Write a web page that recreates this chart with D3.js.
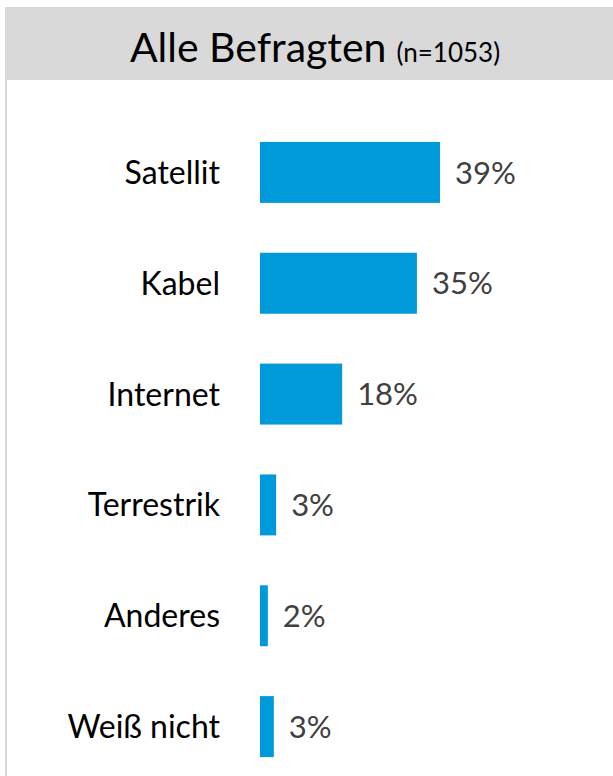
<!DOCTYPE html>
<html>
<head>
<meta charset="utf-8">
<script src="https://cdn.jsdelivr.net/npm/d3@7"></script>
<style>
  html, body { margin: 0; padding: 0; background: #fff; }
  svg { display: block; }
</style>
</head>
<body>
<svg id="chart" width="613" height="776"></svg>
<script>
const categories = ["Satellit", "Kabel", "Internet", "Terrestrik", "Anderes", "Weiß nicht"];
const values = [39, 34, 17.8, 3.5, 1.7, 3.0];
const valueLabels = ["39%", "35%", "18%", "3%", "2%", "3%"];
const titleMain = "Alle Befragten";
const titleSub = "(n=1053)";

const svg = d3.select("#chart");
const W = 613, H = 776;
const FONT = "Lato, 'Open Sans', sans-serif";

// frame
svg.append("rect").attr("x", 6).attr("y", 8).attr("width", W).attr("height", H)
  .attr("fill", "#fff").attr("stroke", "#d9d9d9").attr("stroke-width", 2);
svg.append("rect").attr("x", 5).attr("y", 8).attr("width", W - 5).attr("height", 72)
  .attr("fill", "#d9d9d9");

// title
const t = svg.append("text").attr("x", 315).attr("y", 62)
  .attr("text-anchor", "middle").attr("font-family", FONT).attr("fill", "#000");
t.append("tspan").attr("font-size", 41).text(titleMain);
t.append("tspan").attr("font-size", 26).attr("dx", 10).text(titleSub);

const x = d3.scaleLinear().domain([0, 39]).range([260, 440]);
const y = d3.scaleBand().domain(categories).range([117, 782])
  .paddingInner(0.45).paddingOuter(0.225);

const data = categories.map((c, i) => ({ c, v: values[i], l: valueLabels[i] }));

svg.selectAll("rect.bar").data(data).join("rect").attr("class", "bar")
  .attr("x", x(0)).attr("y", d => y(d.c))
  .attr("width", d => x(d.v) - x(0)).attr("height", y.bandwidth())
  .attr("fill", "#0099da");

svg.selectAll("text.cat").data(data).join("text").attr("class", "cat")
  .attr("x", 220).attr("y", d => y(d.c) + y.bandwidth() / 2)
  .attr("dy", "0.36em").attr("text-anchor", "end")
  .attr("font-family", FONT).attr("font-size", 32).attr("fill", "#000")
  .text(d => d.c);

svg.selectAll("text.val").data(data).join("text").attr("class", "val")
  .attr("x", d => x(d.v) + 15).attr("y", d => y(d.c) + y.bandwidth() / 2)
  .attr("dy", "0.36em").attr("text-anchor", "start")
  .attr("font-family", FONT).attr("font-size", 31).attr("fill", "#404040")
  .text(d => d.l);
</script>
</body>
</html>
